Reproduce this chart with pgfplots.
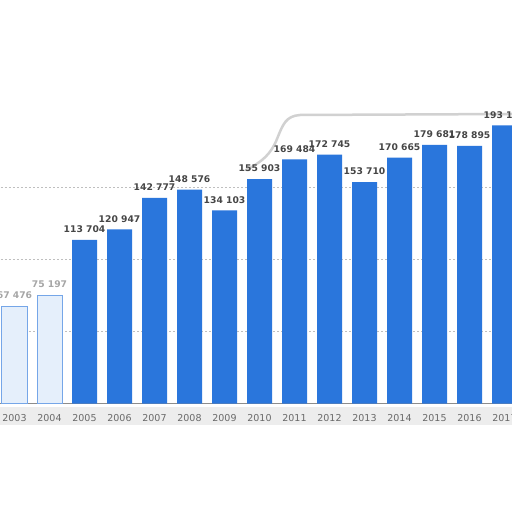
\documentclass[border=0pt]{standalone}
\usepackage{pgfplots}
\pgfplotsset{compat=1.18}
\usepackage{fontspec}
\setmainfont{DejaVu Sans}
\definecolor{barblue}{RGB}{42,118,220}
\definecolor{labelgray}{RGB}{70,70,70}
\definecolor{tickgray}{RGB}{105,105,105}
\begin{document}
\begin{tikzpicture}[x=1pt,y=1pt]
\useasboundingbox (0,0) rectangle (512,512);
\clip (0,0) rectangle (512,512);
\fill[white] (0,0) rectangle (512,512);
% faint shadow band behind the year labels
\fill[black!7] (0,87) rectangle (512,105);
% soft grey edge along the top right
\draw[black!18, line width=2.5pt, line cap=round]
  (512,398) -- (300,397) .. controls (286,396) and (283,388) .. (277,373)
  .. controls (271,358) and (262,350) .. (246,342);
\begin{axis}[
  at={(-3pt,108.5pt)}, anchor=south west,
  scale only axis, width=525pt, height=288pt,
  xmin=2002.5, xmax=2017.5, ymin=0, ymax=200000,
  clip=false, scaled y ticks=false,
  axis x line*=bottom, axis y line*=left,
  y axis line style={draw=none},
  x axis line style={draw=black!45, line width=1.5pt},
  ytick={50000,100000,150000}, yticklabels={},
  ytick style={draw=none}, xtick style={draw=none},
  ymajorgrids, grid style={black!25, dash pattern=on 2pt off 2pt, line width=0.6pt},
  xtick={2003,2004,2005,2006,2007,2008,2009,2010,2011,2012,2013,2014,2015,2016,2017},
  xticklabels={2003,2004,2005,2006,2007,2008,2009,2010,2011,2012,2013,2014,2015,2016,2017},
  xticklabel style={font=\fontsize{9.5}{10}\selectfont, text=tickgray, anchor=center, yshift=-14.5pt},
  bar shift=0pt, bar width=25pt,
  point meta=explicit symbolic,
  nodes near coords,
  nodes near coords style={font=\fontsize{9.2}{10}\selectfont\bfseries, anchor=south, inner sep=0pt, yshift=7pt},
]
\addplot[ybar, fill=barblue!12, draw=barblue!65, line width=1pt,
  nodes near coords style={text=black!35}]
  coordinates {(2003,67476) [67 476] (2004,75197) [75 197]};
\addplot[ybar, fill=barblue, draw=none,
  nodes near coords style={text=labelgray}]
  coordinates {
    (2005,113704) [113 704]
    (2006,120947) [120 947]
    (2007,142777) [142 777]
    (2008,148576) [148 576]
    (2009,134103) [134 103]
    (2010,155903) [155 903]
    (2011,169484) [169 484]
    (2012,172745) [172 745]
    (2013,153710) [153 710]
    (2014,170665) [170 665]
    (2015,179681) [179 681]
    (2016,178895) [178 895]
    (2017,193127) [193 127]
  };
\end{axis}
\end{tikzpicture}
\end{document}
